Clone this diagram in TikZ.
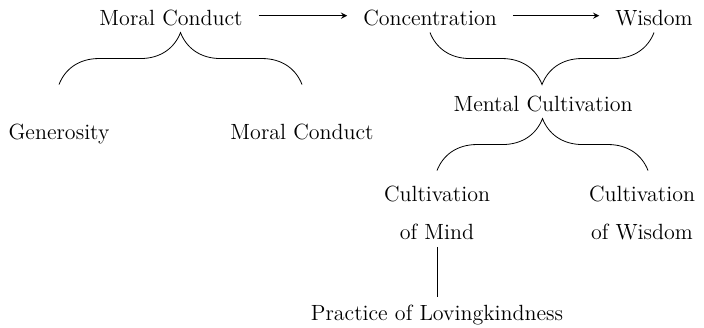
\documentclass[tikz,border=0pt]{standalone}
\usetikzlibrary{decorations.pathreplacing}
\begin{document}
\begin{tikzpicture}[x=0.5pt,y=-0.5pt,
	every node/.style={font=\fontsize{11}{19}\selectfont},
	lbl/.style={anchor=base},
	curly/.style={decorate,decoration={brace,amplitude=20pt,transform={yscale=1.3}}},
	arr/.style={-stealth,shorten >=4.5pt,shorten <=4.5pt}]
	\useasboundingbox (0,0) rectangle (704,327);
	\node[lbl] (mc) at (171,25) {Moral Conduct};
	\node[lbl] (conc) at (430,25) {Concentration};
	\node[lbl] (wis) at (654,25) {Wisdom};
	\node[lbl] (gen) at (59,139) {Generosity};
	\node[lbl] (mcb) at (302,139) {Moral Conduct};
	\node[lbl] (ment) at (543,111) {Mental Cultivation};
	\node[align=center] (cmind) at (437,213) {Cultivation\\of Mind};
	\node[align=center] (cwis) at (642,213) {Cultivation\\of Wisdom};
	\node[lbl] (prac) at (437,320) {Practice of Lovingkindness};
	\draw[arr] ([yshift=2.5pt]mc.mid east) -- ([yshift=2.5pt]conc.mid west);
	\draw[arr] ([yshift=2.5pt]conc.mid east) -- ([yshift=2.5pt]wis.mid west);
	\draw[curly] ([yshift=-26pt]mc.south -| gen) -- ([yshift=-26pt]mc.south -| mcb);
	\draw[curly] (wis.south) -- (conc.south);
	\draw[curly] ([yshift=-26pt]ment.south -| cmind) -- ([xshift=3pt,yshift=-26pt]ment.south -| cwis);
	\draw (cmind.south) -- (prac.north);
\end{tikzpicture}
\end{document}
